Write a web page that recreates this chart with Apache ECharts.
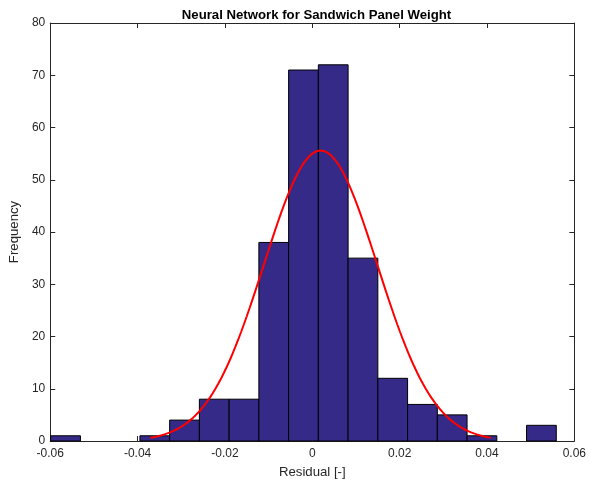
<!DOCTYPE html>
<html>
<head>
<meta charset="utf-8">
<script src="https://cdn.jsdelivr.net/npm/echarts@6/dist/echarts.min.js"></script>
<style>
html,body{margin:0;padding:0;background:#fff;}
#chart{width:589px;height:486px;}
</style>
</head>
<body>
<div id="chart"></div>
<script>
// ---- data ----
const binStart = -0.0599;          // left edge of first bin
const binWidth = 0.00681;          // width of each bin
const counts = [1, 0, 0, 1, 4, 8, 8, 38, 71, 72, 35, 12, 7, 5, 1, 0, 3];
const fitMu = 0.0019;              // fitted normal mean
const fitSigma = 0.0130;           // fitted normal std dev
const xTicks = [-0.06, -0.04, -0.02, 0, 0.02, 0.04, 0.06];
const yTicks = [0, 10, 20, 30, 40, 50, 60, 70, 80];

// build bar table [left, right, count]
const bars = counts.map((c, i) => [binStart + i * binWidth, binStart + (i + 1) * binWidth, c]);
const total = counts.reduce((a, b) => a + b, 0);

// fitted normal curve (histfit style, mu +/- 3 sigma)
const curve = [];
const nPts = 120;
for (let i = 0; i <= nPts; i++) {
  const x = fitMu - 3 * fitSigma + (6 * fitSigma) * i / nPts;
  const z = (x - fitMu) / fitSigma;
  const y = total * binWidth / (fitSigma * Math.sqrt(2 * Math.PI)) * Math.exp(-0.5 * z * z);
  curve.push([x, y]);
}

const axisColor = '#262626';
const font = 'Liberation Sans, Arial, Helvetica, sans-serif';

function fmtX(v) {
  const r = Math.round(v * 100) / 100;
  if (Math.abs(r) < 1e-9) return '0';
  return String(r);
}

const lineOpt = {show: true, onZero: false, lineStyle: {color: axisColor, width: 1}};
const tickOpt = {show: true, inside: true, length: 5, lineStyle: {color: axisColor}};

const chart = echarts.init(document.getElementById('chart'), null, {renderer: 'canvas'});
chart.setOption({
  animation: false,
  backgroundColor: '#fff',
  title: {
    text: 'Neural Network for Sandwich Panel Weight',
    left: 311.5, top: 4, textAlign: 'center',
    textStyle: {fontFamily: font, fontSize: 13.2, fontWeight: 'bold', color: '#000'}
  },
  grid: {left: 45, top: 23, width: 533, height: 418, containLabel: false},
  xAxis: [{
    type: 'value', min: -0.06, max: 0.06, interval: 0.02,
    name: 'Residual [-]', nameLocation: 'middle', nameGap: 25,
    nameTextStyle: {fontFamily: font, fontSize: 13.2, color: axisColor},
    axisLine: lineOpt, axisTick: tickOpt,
    axisLabel: {fontFamily: font, fontSize: 12, color: axisColor, margin: 7,
      formatter: fmtX, showMinLabel: true, showMaxLabel: true},
    splitLine: {show: false}
  }, {
    type: 'value', position: 'top', min: -0.06, max: 0.06, interval: 0.02,
    axisLine: lineOpt, axisTick: tickOpt,
    axisLabel: {show: false}, splitLine: {show: false}
  }],
  yAxis: [{
    type: 'value', min: 0, max: 80, interval: 10,
    name: 'Frequency', nameLocation: 'middle', nameGap: 24,
    nameTextStyle: {fontFamily: font, fontSize: 13.2, color: axisColor},
    axisLine: lineOpt, axisTick: tickOpt,
    axisLabel: {fontFamily: font, fontSize: 12, color: axisColor, margin: 5},
    splitLine: {show: false}
  }, {
    type: 'value', position: 'right', min: 0, max: 80, interval: 10,
    axisLine: lineOpt, axisTick: tickOpt,
    axisLabel: {show: false}, splitLine: {show: false}
  }],
  series: [{
    type: 'custom',
    xAxisIndex: 0, yAxisIndex: 0,
    data: bars,
    encode: {x: [0, 1], y: 2},
    renderItem: function (params, api) {
      const h = api.value(2);
      if (h <= 0) return null;
      const p0 = api.coord([api.value(0), 0]);
      const p1 = api.coord([api.value(1), h]);
      return {
        type: 'rect',
        shape: {x: p0[0], y: p1[1], width: p1[0] - p0[0], height: p0[1] - p1[1]},
        style: {fill: '#352a87', stroke: '#000', lineWidth: 1}
      };
    },
    z: 2
  }, {
    type: 'line',
    xAxisIndex: 0, yAxisIndex: 0,
    data: curve,
    showSymbol: false, symbol: 'none',
    lineStyle: {color: '#ff0000', width: 2},
    z: 3
  }]
});
</script>
</body>
</html>
